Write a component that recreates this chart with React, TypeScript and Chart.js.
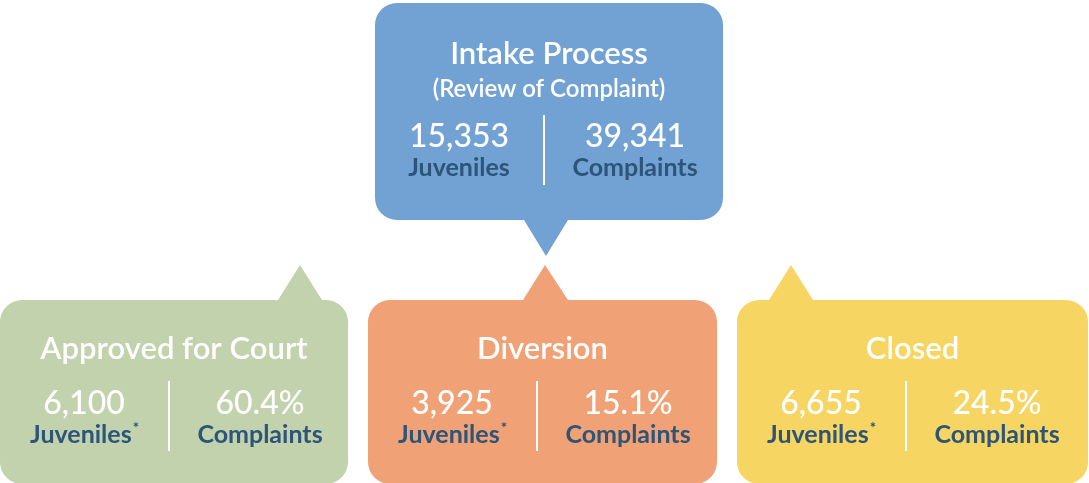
import React, { useEffect, useRef } from "react";
import { Chart, registerables } from "chart.js";
Chart.register(...registerables);

const stageTitles = ["Intake Process", "Approved for Court", "Diversion", "Closed"];
const stageSubtitles = ["(Review of Complaint)", "", "", ""];
const juvenileValues = ["15,353", "6,100", "3,925", "6,655"];
const juvenileLabels = ["Juveniles", "Juveniles*", "Juveniles*", "Juveniles*"];
const complaintValues = ["39,341", "60.4%", "15.1%", "24.5%"];
const complaintLabels = ["Complaints", "Complaints", "Complaints", "Complaints"];
const stageColors = ["#72a2d4", "#c1d2ad", "#f0a276", "#f6d563"];

// layout (in scale units = px of 1089x483 canvas)
const boxes = [
  { x0: 375, x1: 723, y0: 3, y1: 220, tip: { bx0: 524, bx1: 568, ax: 546, ay: 256, by: 220 }, titleY: 54, subY: 89, numY: 137, labY: 168, divY0: 115, divY1: 185 },
  { x0: 0, x1: 348, y0: 300, y1: 484, tip: { bx0: 278, bx1: 322, ax: 300, ay: 265, by: 300 }, titleY: 349, subY: 0, numY: 404, labY: 435, divY0: 381, divY1: 451 },
  { x0: 368, x1: 717, y0: 300, y1: 484, tip: { bx0: 523, bx1: 568, ax: 545, ay: 265, by: 300 }, titleY: 349, subY: 0, numY: 404, labY: 435, divY0: 381, divY1: 451 },
  { x0: 737, x1: 1088, y0: 300, y1: 484, tip: { bx0: 769, bx1: 813, ax: 791, ay: 265, by: 300 }, titleY: 349, subY: 0, numY: 404, labY: 435, divY0: 381, divY1: 451 },
];

const FONT = "Lato, 'Open Sans', sans-serif";
const DARK = "#2d5479";

function drawLabel(ctx: CanvasRenderingContext2D, text: string, cx: number, y: number) {
  const star = text.endsWith("*");
  const main = star ? text.slice(0, -1) : text;
  ctx.font = `bold 25px ${FONT}`;
  const w = ctx.measureText(main).width;
  ctx.font = `bold 15px ${FONT}`;
  const sw = star ? ctx.measureText("*").width : 0;
  const left = cx - (w + sw) / 2;
  ctx.textAlign = "left";
  ctx.font = `bold 25px ${FONT}`;
  ctx.fillText(main, left, y);
  if (star) {
    ctx.font = `bold 15px ${FONT}`;
    ctx.fillText("*", left + w + 1, y - 7);
  }
  ctx.textAlign = "center";
}

const infographicPlugin = {
  id: "infographic",
  afterDatasetsDraw(chart: any) {
    const ctx = chart.ctx as CanvasRenderingContext2D;
    const xs = chart.scales.x;
    const ys = chart.scales.y;
    const px = (v: number) => xs.getPixelForValue(v);
    const py = (v: number) => ys.getPixelForValue(v);
    ctx.save();
    boxes.forEach((b, i) => {
      const x0 = px(b.x0), x1 = px(b.x1), y0 = py(b.y0), y1 = py(b.y1);
      const r = 22;
      ctx.fillStyle = stageColors[i];
      ctx.beginPath();
      ctx.roundRect(x0, y0, x1 - x0, y1 - y0, r);
      ctx.fill();
      ctx.beginPath();
      ctx.moveTo(px(b.tip.bx0), py(b.tip.by));
      ctx.lineTo(px(b.tip.ax), py(b.tip.ay));
      ctx.lineTo(px(b.tip.bx1), py(b.tip.by));
      ctx.closePath();
      ctx.fill();

      const cx = (x0 + x1) / 2;
      const lc = x0 + 84;
      const dv = x0 + 169;
      const rc = x0 + 260;
      ctx.textAlign = "center";
      ctx.textBaseline = "middle";
      ctx.fillStyle = "#ffffff";
      ctx.font = `600 31px ${FONT}`;
      ctx.fillText(stageTitles[i], cx, py(b.titleY));
      if (stageSubtitles[i]) {
        ctx.font = `600 24px ${FONT}`;
        ctx.fillText(stageSubtitles[i], cx, py(b.subY));
      }
      ctx.font = `500 32px ${FONT}`;
      ctx.fillText(juvenileValues[i], lc, py(b.numY));
      ctx.fillText(complaintValues[i], rc, py(b.numY));
      ctx.fillStyle = DARK;
      drawLabel(ctx, juvenileLabels[i], lc, py(b.labY));
      drawLabel(ctx, complaintLabels[i], rc, py(b.labY));
      ctx.strokeStyle = "#ffffff";
      ctx.lineWidth = 2;
      ctx.beginPath();
      ctx.moveTo(dv, py(b.divY0));
      ctx.lineTo(dv, py(b.divY1));
      ctx.stroke();
    });
    ctx.restore();
  },
};

export default function App() {
  const ref = useRef<HTMLCanvasElement | null>(null);
  useEffect(() => {
    document.body.style.margin = "0";
    const chart = new Chart(ref.current!, {
      type: "scatter",
      data: { datasets: [{ data: [], pointRadius: 0 }] },
      options: {
        animation: false,
        responsive: false,
        layout: { padding: 0 },
        plugins: { legend: { display: false }, tooltip: { enabled: false } },
        scales: {
          x: { type: "linear", min: 0, max: 1089, display: false },
          y: { type: "linear", min: 0, max: 483, reverse: true, display: false },
        },
      },
      plugins: [infographicPlugin],
    });
    return () => chart.destroy();
  }, []);
  return (
    <div style={{ width: 1089, height: 483 }}>
      <canvas ref={ref} width={1089} height={483} />
    </div>
  );
}
